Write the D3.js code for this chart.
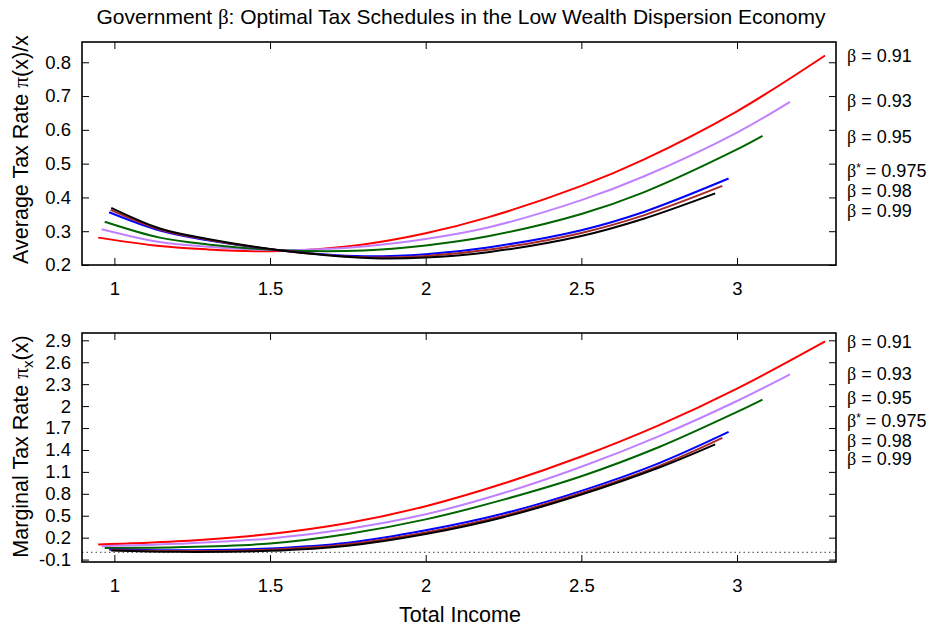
<!DOCTYPE html>
<html>
<head>
<meta charset="utf-8">
<script src="https://cdn.jsdelivr.net/npm/d3@7"></script>
<style>
body { margin: 0; background: #fff; }
svg { font-family: "Liberation Sans", Arial, sans-serif; }
</style>
</head>
<body>
<svg id="chart" width="934" height="626"></svg>
<script>
// series labels and colours (drawn in this order)
var betas = ["0.91", "0.93", "0.95", "0.975", "0.98", "0.99"];
var colors = ["#ff0000", "#c080ff", "#006400", "#0000ff", "#a52a2a", "#000000"];

// tick values
var xTicks = [1, 1.5, 2, 2.5, 3];
var avgTicks = [0.2, 0.3, 0.4, 0.5, 0.6, 0.7, 0.8];
var margTicks = [-0.1, 0.2, 0.5, 0.8, 1.1, 1.4, 1.7, 2, 2.3, 2.6, 2.9];

// average tax rate pi(x)/x, [income, rate]
var avg_b091 = [[0.948,0.281],[1.146,0.256],[1.3,0.246],[1.45,0.241],[1.6,0.244],[1.8,0.261],[2.0,0.294],[2.2,0.341],[2.5,0.434],[2.7,0.512],[3.0,0.655],[3.283,0.82]];
var avg_b093 = [[0.959,0.306],[1.146,0.268],[1.3,0.254],[1.53,0.244],[1.8,0.255],[2.0,0.277],[2.2,0.311],[2.5,0.392],[2.7,0.462],[3.0,0.592],[3.17,0.683]];
var avg_b095 = [[0.969,0.328],[1.146,0.281],[1.3,0.261],[1.53,0.244],[1.8,0.243],[2.0,0.258],[2.2,0.285],[2.5,0.351],[2.7,0.415],[3.0,0.542],[3.082,0.582]];
var avg_b0975 = [[0.983,0.356],[1.146,0.302],[1.3,0.273],[1.53,0.244],[1.8,0.226],[2.0,0.232],[2.2,0.252],[2.5,0.303],[2.7,0.357],[2.973,0.456]];
var avg_b098 = [[0.988,0.363],[1.146,0.305],[1.3,0.275],[1.53,0.244],[1.8,0.223],[2.0,0.227],[2.2,0.245],[2.5,0.295],[2.7,0.347],[2.953,0.434]];
var avg_b099 = [[0.99,0.369],[1.146,0.308],[1.3,0.277],[1.53,0.244],[1.83,0.22],[2.0,0.222],[2.2,0.238],[2.5,0.286],[2.7,0.337],[2.93,0.412]];

// marginal tax rate pi_x(x), [income, rate]
var marg_b091 = [[0.948,0.105],[1.2,0.15],[1.5,0.25],[1.75,0.40],[2.0,0.63],[2.25,0.94],[2.5,1.31],[2.75,1.74],[3.0,2.24],[3.283,2.886]];
var marg_b093 = [[0.959,0.082],[1.2,0.115],[1.5,0.19],[1.75,0.32],[2.0,0.52],[2.25,0.81],[2.5,1.17],[2.75,1.59],[3.0,2.07],[3.17,2.435]];
var marg_b095 = [[0.969,0.059],[1.2,0.068],[1.5,0.12],[1.75,0.25],[2.0,0.45],[2.25,0.72],[2.5,1.04],[2.75,1.44],[3.0,1.92],[3.082,2.089]];
var marg_b0975 = [[0.983,0.037],[1.2,0.028],[1.5,0.052],[1.75,0.13],[2.0,0.30],[2.25,0.53],[2.5,0.84],[2.75,1.22],[2.973,1.646]];
var marg_b098 = [[0.988,0.03],[1.2,0.017],[1.5,0.036],[1.75,0.11],[2.0,0.27],[2.25,0.50],[2.5,0.81],[2.75,1.18],[2.953,1.564]];
var marg_b099 = [[0.99,0.023],[1.2,0.006],[1.5,0.02],[1.75,0.09],[2.0,0.25],[2.25,0.48],[2.5,0.79],[2.75,1.16],[2.93,1.477]];

// where the right-hand labels sit (in y units of each panel)
var avgLabelY = [0.818, 0.686, 0.579, 0.479, 0.419, 0.36];
var margLabelY = [2.886, 2.449, 2.111, 1.796, 1.532, 1.285];

var svg = d3.select("#chart");
var left = 82, right = 836;
var width = right - left;
var fmt = function(d) { return String(+d.toFixed(1)); };

var x = d3.scaleLinear().domain([0.896, 3.318]).range([0, width]);

function drawPanel(cfg) {
	const { top, height, ydomain, yticks, series, labelY, ylabel, zeroLine } = cfg;
	var y = d3.scaleLinear().domain(ydomain).range([height, 0]);
	var g = svg.append("g").attr("transform", "translate(" + left + "," + top + ")");

	// inward ticks on all four sides (gnuplot style mirror)
	g.append("g").attr("class", "y-axis")
		.call(d3.axisLeft(y).tickValues(yticks).tickFormat(fmt).tickSizeInner(-7).tickSizeOuter(0).tickPadding(11));
	g.append("g").attr("transform", "translate(" + width + ",0)")
		.call(d3.axisRight(y).tickValues(yticks).tickFormat("").tickSizeInner(-7).tickSizeOuter(0));
	g.append("g").attr("class", "x-axis").attr("transform", "translate(0," + height + ")")
		.call(d3.axisBottom(x).tickValues(xTicks).tickFormat(fmt).tickSizeInner(-7).tickSizeOuter(0).tickPadding(17));
	g.append("g")
		.call(d3.axisTop(x).tickValues(xTicks).tickFormat("").tickSizeInner(-7).tickSizeOuter(0));
	g.selectAll(".domain").remove();
	g.selectAll(".tick line").attr("stroke", "#000").attr("stroke-width", 1);
	g.selectAll(".tick text").attr("fill", "#000").attr("font-size", "18.5px")
		.attr("font-family", "'Liberation Sans', Arial, sans-serif");

	if (zeroLine) {
		g.append("line")
			.attr("x1", 0).attr("x2", width)
			.attr("y1", y(0)).attr("y2", y(0))
			.attr("stroke", "#666").attr("stroke-width", 1.2)
			.attr("stroke-dasharray", "1.5,3");
	}

	var line = d3.line()
		.x(function(d) { return x(d[0]); })
		.y(function(d) { return y(d[1]); })
		.curve(d3.curveCatmullRom.alpha(0.5));

	series.forEach(function(s, i) {
		g.append("path")
			.datum(s)
			.attr("fill", "none")
			.attr("stroke", colors[i])
			.attr("stroke-width", 2)
			.attr("d", line);
	});

	g.append("rect")
		.attr("x", 0).attr("y", 0)
		.attr("width", width).attr("height", height)
		.attr("fill", "none").attr("stroke", "#000").attr("stroke-width", 1.6);

	// right-hand beta labels
	betas.forEach(function(b, i) {
		var t = g.append("text")
			.attr("x", width + 11)
			.attr("y", y(labelY[i]))
			.attr("dy", "0.35em")
			.attr("font-size", "18px");
		t.append("tspan").attr("font-family", "'Liberation Serif', serif").text("\u03b2");
		if (b == "0.975") {
			t.append("tspan").attr("font-size", "12px").attr("dy", "-0.45em").text("*");
			t.append("tspan").attr("dy", "0.3em").text(" = " + b);
		} else {
			t.append("tspan").text(" = " + b);
		}
	});

	// y axis title
	var yt = svg.append("text")
		.attr("transform", "translate(" + 28 + "," + (top + height / 2 + ylabel.dy) + ") rotate(-90)")
		.attr("text-anchor", "middle")
		.attr("font-size", "21.5px");
	ylabel.parts.forEach(function(p) {
		var ts = yt.append("tspan").text(p.t);
		if (p.serif) ts.attr("font-family", "'Liberation Serif', serif");
		if (p.sub) ts.attr("font-size", "15px").attr("dy", 4.5);
		if (p.after) ts.attr("dy", -4.5);
	});
	return g;
}

drawPanel({
	top: 42, height: 223,
	ydomain: [0.2, 0.86], yticks: avgTicks,
	series: [avg_b091, avg_b093, avg_b095, avg_b0975, avg_b098, avg_b099],
	labelY: avgLabelY,
	ylabel: { dy: -4, parts: [{t: "Average Tax Rate "}, {t: "\u03c0", serif: true}, {t: "(x)/x"}] },
	zeroLine: false
});

drawPanel({
	top: 333, height: 229,
	ydomain: [-0.133, 3.0], yticks: margTicks,
	series: [marg_b091, marg_b093, marg_b095, marg_b0975, marg_b098, marg_b099],
	labelY: margLabelY,
	ylabel: { dy: -1, parts: [{t: "Marginal Tax Rate "}, {t: "\u03c0", serif: true}, {t: "x", sub: true}, {t: "(x)", after: true}] },
	zeroLine: true
});

// title
var title = svg.append("text")
	.attr("x", 461).attr("y", 24)
	.attr("text-anchor", "middle")
	.attr("font-size", "21px");
title.append("tspan").text("Government ");
title.append("tspan").attr("font-family", "'Liberation Serif', serif").text("\u03b2");
title.append("tspan").text(": Optimal Tax Schedules in the Low Wealth Dispersion Economy");

// x axis title
svg.append("text")
	.attr("x", 460).attr("y", 622)
	.attr("text-anchor", "middle")
	.attr("font-size", "21.5px")
	.text("Total Income");
</script>
</body>
</html>
